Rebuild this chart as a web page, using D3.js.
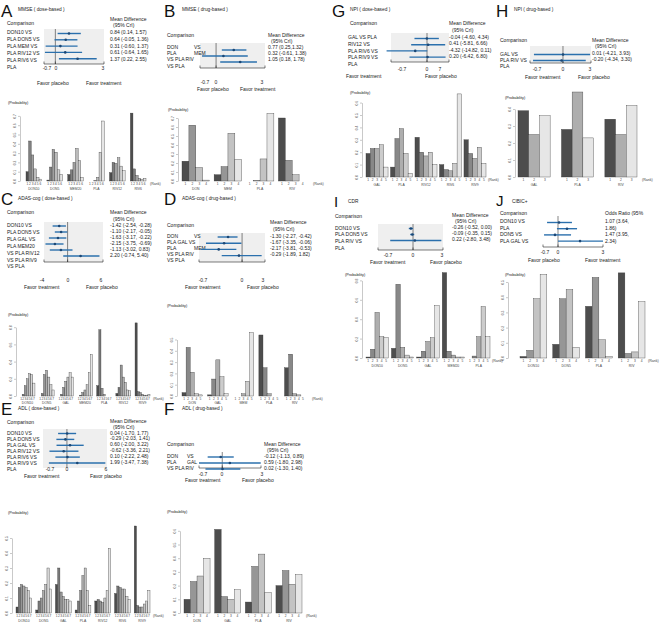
<!DOCTYPE html>
<html><head><meta charset="utf-8">
<script src="https://cdn.jsdelivr.net/npm/d3@7"></script>
<style>
html,body{margin:0;padding:0;background:#fff;overflow:hidden;}
svg{display:block;}
</style></head><body>
<script>
// ================= DATA =================
// A: MMSE (dose-based)
const aLabels = ["DON10 VS","PLA DON5 VS","PLA MEM VS","PLA RIV12 VS","PLA RIV6 VS","PLA"];
const aValues = ["0.84 (0.14, 1.57)","0.64 (-0.05, 1.36)","0.31 (-0.60, 1.37)","0.61 (-0.64, 1.65)","1.37 (0.22, 2.55)"];
const aMid = [0.84,0.64,0.31,0.61,1.37];
const aLo  = [0.14,-0.05,-0.60,-0.64,0.22];
const aHi  = [1.57,1.36,1.37,1.65,2.55];
const aTreat = ["DON10","DON5","MEM20","PLA","RIV12","RIV6"];
const aProb = [[0.10,0.43,0.28,0.13,0.04,0.02],[0.01,0.15,0.34,0.31,0.12,0.07],[0.07,0.12,0.20,0.35,0.22,0.04],
               [0.0,0.0,0.005,0.04,0.31,0.645],[0.09,0.20,0.19,0.25,0.16,0.11],[0.73,0.13,0.06,0.03,0.02,0.03]];
const aYTicks = [0,0.1,0.2,0.3,0.4,0.5,0.6,0.7];

// B: MMSE (drug-based)  ("|" separates the two label columns)
const bLabels = ["DON|VS","PLA|MEM","VS PLA RIV","VS PLA"];
const bValues = ["0.77 (0.25,1.32)","0.32 (-0.61, 1.38)","1.05 (0.18, 1.78)"];
const bMid = [0.77,0.32,1.05];
const bLo  = [0.25,-0.61,0.18];
const bHi  = [1.32,1.38,1.78];
const bTreat = ["DON","MEM","PLA","RIV"];
const bProb = [[0.22,0.62,0.15,0.01],[0.07,0.16,0.53,0.24],[0.0,0.005,0.245,0.75],[0.70,0.23,0.07,0.0]];
const bYTicks = [0,0.1,0.2,0.3,0.4,0.5,0.6,0.7];

// C: ADAS-cog (dose-based)
const cLabels = ["DON10 VS","PLA DON5 VS","PLA GAL VS","PLA MEM20","VS PLA RIV12","VS PLA RIV9","VS PLA"];
const cValues = ["-1.42 (-2.54, -0.28)","-1.10 (-2.17, -0.05)","-1.63 (-3.17, -0.22)","-2.15 (-3.75, -0.69)","-1.13 (-3.02, 0.83)","2.20 (-0.74, 5.40)"];
const cMid = [-1.42,-1.10,-1.63,-2.15,-1.13,2.20];
const cLo  = [-2.54,-2.17,-3.17,-3.75,-3.02,-0.74];
const cHi  = [-0.28,-0.05,-0.22,-0.69,0.83,5.40];
const cTreat = ["DON10","DON5","GAL","MEM20","PLA","RIV12","RIV9"];
const cProb = [[0.0,0.02,0.12,0.20,0.26,0.25,0.15],[0.0,0.03,0.25,0.30,0.22,0.13,0.07],[0.0,0.02,0.10,0.17,0.22,0.27,0.22],
               [0.0,0.01,0.04,0.07,0.13,0.27,0.48],[0.12,0.77,0.09,0.02,0.0,0.0,0.0],[0.03,0.10,0.36,0.22,0.16,0.07,0.06],
               [0.85,0.05,0.04,0.02,0.01,0.01,0.02]];
const cYTicks = [0,0.2,0.4,0.6,0.8];

// D: ADAS-cog (drug-based)
const dLabels = ["DON|VS","PLA GAL VS","PLA|MEM","VS PLA RIV","VS PLA"];
const dValues = ["-1.30 (-2.27, -0.42)","-1.67 (-3.35, -0.06)","-2.17 (-3.81, -0.53)","-0.29 (-1.89, 1.82)"];
const dMid = [-1.30,-1.67,-2.17,-0.29];
const dLo  = [-2.27,-3.35,-3.81,-1.89];
const dHi  = [-0.42,-0.06,-0.53,1.82];
const dTreat = ["DON","GAL","MEM","PLA","RIV"];
const dProb = [[0.03,0.43,0.21,0.02,0.01],[0.01,0.15,0.32,0.17,0.02],[0.0,0.0,0.02,0.13,0.56],[0.54,0.25,0.02,0.0,0.0],[0.25,0.37,0.02,0.01,0.0]];
const dYTicks = [0,0.1,0.2,0.3,0.4,0.5];

// E: ADL (dose-based)
const eLabels = ["DON10 VS","PLA DON5 VS","PLA GAL VS","PLA RIV12 VS","PLA RIV6 VS","PLA RIV9 VS","PLA"];
const eValues = ["0.04 (-1.70, 1.77)","-0.29 (-2.03, 1.41)","0.60 (-2.00, 3.22)","-0.62 (-3.36, 2.21)","0.10 (-2.22, 2.48)","1.99 (-3.47, 7.38)"];
const eMid = [0.04,-0.29,0.60,-0.62,0.10,1.99];
const eLo  = [-1.70,-2.03,-2.00,-3.36,-2.22,-3.47];
const eHi  = [1.77,1.41,3.22,2.21,2.48,7.38];
const eTreat = ["DON10","DON5","GAL","PLA","RIV12","RIV6","RIV9"];
const eProb = [[0.04,0.17,0.19,0.18,0.17,0.15,0.10],[0.02,0.08,0.10,0.15,0.19,0.30,0.16],[0.19,0.30,0.14,0.11,0.09,0.09,0.08],
               [0.02,0.08,0.15,0.25,0.30,0.15,0.05],[0.08,0.09,0.08,0.07,0.10,0.15,0.43],[0.13,0.18,0.17,0.16,0.16,0.11,0.09],
               [0.58,0.05,0.04,0.04,0.06,0.08,0.15]];
const eYTicks = [0,0.1,0.2,0.3,0.4,0.5];

// F: ADL (drug-based)
const fLabels = ["DON|VS","PLA|GAL","VS PLA RIV"];
const fValues = ["-0.12 (-1.13, 0.89)","0.59 (-1.80, 2.98)","0.02 (-1.30, 1.40)"];
const fMid = [-0.12,0.59,0.02];
const fLo  = [-1.13,-1.80,-1.30];
const fHi  = [0.89,2.98,1.40];
const fTreat = ["DON","GAL","PLA","RIV"];
const fProb = [[0.10,0.23,0.27,0.40],[0.61,0.12,0.10,0.17],[0.08,0.34,0.43,0.15],[0.20,0.31,0.21,0.28]];
const fYTicks = [0,0.1,0.2,0.3,0.4,0.5,0.6];

// G: NPI (dose-based)
const gLabels = ["GAL VS PLA","RIV12 VS","PLA RIV6 VS","PLA RIV9 VS","PLA"];
const gValues = ["-0.04 (-4.60, 4.34)","0.41 (-5.81, 6.66)","-4.32 (-14.82, 0.11)","0.20 (-6.42, 6.80)"];
const gMid = [-0.04,0.41,-4.32,0.20];
const gLo  = [-4.60,-5.81,-14.82,-6.42];
const gHi  = [4.34,6.66,0.11,6.80];
const gTreat = ["GAL","PLA","RIV12","RIV6","RIV9"];
const gProb = [[0.19,0.23,0.23,0.26,0.08],[0.08,0.31,0.39,0.19,0.03],[0.32,0.20,0.17,0.20,0.10],[0.10,0.06,0.05,0.11,0.67],[0.30,0.19,0.15,0.24,0.11]];
const gYTicks = [0,0.1,0.2,0.3,0.4,0.5,0.6];

// H: NPI (drug-based)
const hLabels = ["GAL VS","PLA RIV VS","PLA"];
const hValues = ["0.01 (-4.21, 3.93)","-0.20 (-4.34, 3.30)"];
const hMid = [0.01,-0.20];
const hLo  = [-4.21,-4.34];
const hHi  = [3.93,3.30];
const hTreat = ["GAL","PLA","RIV"];
const hProb = [[0.39,0.25,0.36],[0.28,0.50,0.23],[0.34,0.25,0.42]];
const hYTicks = [0,0.1,0.2,0.3,0.4];

// I: CDR
const iLabels = ["DON10 VS","PLA DON5 VS","PLA RIV VS","PLA"];
const iValues = ["-0.26 (-0.52, 0.00)","-0.09 (-0.35, 0.15)","0.22 (-2.80, 3.48)"];
const iMid = [-0.26,-0.09,0.22];
const iLo  = [-0.52,-0.35,-2.80];
const iHi  = [0.00,0.15,3.48];
const iTreat = ["DON10","DON5","GAL","MEM20","PLA"];
const iProb = [[0.01,0.09,0.47,0.22,0.21],[0.10,0.76,0.11,0.03,0.01],[0.01,0.07,0.17,0.21,0.54],[0.88,0.07,0.03,0.01,0.01],[0.0,0.02,0.22,0.53,0.22]];
const iYTicks = [0,0.2,0.4,0.6,0.8];

// J: CIBIC+
const jLabels = ["DON10 VS","PLA","DON5 VS","PLA GAL VS"];
const jValues = ["1.07 (3.64,","1.86)","1.47 (3.95,","2.34)"];
const jMid = [0.07,0.60,-0.20,1.47];
const jLo  = [-0.73,-0.07,-0.93,0.0];
const jHi  = [0.93,1.27,0.87,3.0];
const jTreat = ["DON10","DON5","PLA","RIV"];
const jProb = [[0.01,0.05,0.39,0.55],[0.09,0.39,0.45,0.07],[0.34,0.53,0.12,0.01],[0.56,0.03,0.04,0.37]];
const jYTicks = [0,0.1,0.2,0.3,0.4,0.5];

const mdHead = ["Mean Difference","(95% CrI)"];
const favPT = ["Favor placebo","Favor treatment"];
const favTP = ["Favor treatment","Favor placebo"];

// ================= DRAWING =================
const FONT = "'Liberation Sans', Arial, Helvetica, sans-serif";
const svg = d3.select("body").append("svg").attr("width",660).attr("height",630).style("font-family",FONT);
svg.append("rect").attr("width",660).attr("height",630).attr("fill","#fff");

function txt(g,x,y,s,size,anchor,fill){
  return g.append("text").attr("x",x).attr("y",y).attr("font-size",size)
    .attr("text-anchor",anchor||"start").attr("fill",fill||"#222").text(s);
}
function grays(n){
  const a=Math.pow(0.3,2.2), b=Math.pow(0.9,2.2);
  return d3.range(n).map(i=>{const v=Math.pow(a+(b-a)*(n>1?i/(n-1):0),1/2.2); const c=Math.round(v*255); return `rgb(${c},${c},${c})`;});
}

function forest(L, D){
  const g = svg.append("g");
  txt(g,L.letter[0],L.letter[1],D.letter,L.letterSize||17,"start","#111");
  txt(g,L.title[0],L.title[1],D.title,4.8);
  txt(g,L.comp[0],L.comp[1],"Comparison",5);
  D.head.forEach((h,i)=>txt(g,L.head[0]+(i?3:0),L.head[1]+i*L.headDy,h,5));
  const x = d3.scaleLinear().domain(L.domain).range([L.box[0],L.box[1]]);
  if (L.shade) g.append("rect").attr("x",L.box[0]).attr("y",L.box[2]).attr("width",L.box[1]-L.box[0])
      .attr("height",L.box[3]-L.box[2]).attr("fill","#efefef");
  g.append("line").attr("x1",x(0)).attr("x2",x(0)).attr("y1",L.box[2]).attr("y2",L.box[3])
    .attr("stroke","#333").attr("stroke-width",0.6);
  if (L.axis){
    g.append("line").attr("x1",L.box[0]).attr("x2",L.box[1]).attr("y1",L.box[3]).attr("y2",L.box[3])
      .attr("stroke","#222").attr("stroke-width",0.6);
    [L.box[0],x(0),L.box[1]].forEach(p=>g.append("line").attr("x1",p).attr("x2",p).attr("y1",L.box[3]).attr("y2",L.box[3]-2.5)
      .attr("stroke","#222").attr("stroke-width",0.6));
  }
  D.labels.forEach((s,i)=>{
    const parts = s.split("|");
    txt(g,L.labelX,L.labelY+i*L.labelDy,parts[0],5);
    if (parts[1]) txt(g,L.labelX+(L.col2||26),L.labelY+i*L.labelDy,parts[1],5);
  });
  D.values.forEach((s,i)=>txt(g,L.head[0],L.valueY+i*L.valueDy,s,5));
  const rows = D.mid.map((m,i)=>({m,lo:D.lo[i],hi:D.hi[i],i}));
  g.selectAll("line.ci").data(rows).join("line").attr("class","ci")
    .attr("x1",d=>x(d.lo)).attr("x2",d=>x(d.hi))
    .attr("y1",d=>L.ciY+d.i*L.ciDy).attr("y2",d=>L.ciY+d.i*L.ciDy)
    .attr("stroke","#2b70ad").attr("stroke-width",1.4);
  g.selectAll("circle.pt").data(rows).join("circle").attr("class","pt")
    .attr("cx",d=>x(d.m)).attr("cy",d=>L.ciY+d.i*L.ciDy).attr("r",1.3).attr("fill","#1b4775");
  D.ticks.forEach((t,i)=>txt(g,L.tickX[i],L.tickY,t,5,"middle"));
  txt(g,L.favorL[0],L.favorL[1],D.favor[0],5);
  txt(g,L.favorR[0],L.favorR[1],D.favor[1],5);
}

function bars(L, D){
  const g = svg.append("g");
  txt(g,L.probX,L.probY,"(Probability)",3.8);
  const y = d3.scaleLinear().domain([0,L.yMax]).range([L.base,L.base-L.yMax*L.ppu]);
  const xg = d3.scaleBand().domain(D.treat).range([L.x0,L.x1]).paddingInner(L.pad);
  const n = D.prob[0].length;
  const ranks = d3.range(1,n+1);
  const xr = d3.scaleBand().domain(ranks).range([0,xg.bandwidth()]);
  const fill = d3.scaleOrdinal().domain(ranks).range(grays(n));
  const ax = g.append("g").attr("transform",`translate(${L.axisX},0)`)
    .call(d3.axisLeft(y).tickValues(D.yTicks).tickSize(2).tickSizeOuter(0).tickFormat(d3.format(".1f")));
  ax.select(".domain").attr("stroke","#777").attr("stroke-width",0.4);
  ax.selectAll(".tick line").attr("stroke","#777").attr("stroke-width",0.4);
  ax.selectAll(".tick text").attr("font-size",3.3).attr("fill","#555").attr("font-family",FONT)
    .attr("transform","rotate(-90)").attr("x",0).attr("y",-3.6).attr("dy",0).attr("text-anchor","middle");
  const cells = D.treat.flatMap((t,ti)=>D.prob[ti].map((p,ri)=>({t,r:ri+1,p})));
  g.selectAll("rect.bar").data(cells).join("rect").attr("class","bar")
    .attr("x",d=>xg(d.t)+xr(d.r)).attr("y",d=>y(d.p)).attr("width",xr.bandwidth())
    .attr("height",d=>y(0)-y(d.p)).attr("fill",d=>fill(d.r)).attr("stroke","#333").attr("stroke-width",0.35);
  g.selectAll("text.rk").data(cells).join("text").attr("class","rk")
    .attr("x",d=>xg(d.t)+xr(d.r)+xr.bandwidth()/2).attr("y",L.tickY).attr("font-size",3.2)
    .attr("text-anchor","middle").attr("fill","#444").text(d=>d.r);
  g.selectAll("text.nm").data(D.treat).join("text").attr("class","nm")
    .attr("x",d=>xg(d)+xg.bandwidth()/2).attr("y",L.nameY).attr("font-size",3.4)
    .attr("text-anchor","middle").attr("fill","#444").text(d=>d);
  txt(g,L.rankX,L.tickY,"(Rank)",3.6,"start","#444");
}

// ----- layouts -----
forest({letter:[1,17],title:[18,11],comp:[7,25],head:[110,21],headDy:6,labelX:7,labelY:34,labelDy:7,valueY:34,valueDy:6.8,
  box:[44,104,29,64],domain:[-0.7,3],shade:true,axis:true,ciY:33.5,ciDy:6.3,tickX:[47,56,103],tickY:69.5,favorL:[37,85],favorR:[86,85]},
  {letter:"A",title:"MMSE ( dose-based )",head:mdHead,labels:aLabels,values:aValues,mid:aMid,lo:aLo,hi:aHi,ticks:["-0.7","0","3"],favor:favPT});
bars({probX:8,probY:104,axisX:20,base:181,ppu:93,yMax:0.7,x0:26,x1:146,pad:0.25,tickY:185,nameY:190,rankX:150},
  {treat:aTreat,prob:aProb,yTicks:aYTicks});

forest({letter:[164,17],title:[182,11],comp:[167,37],head:[268,37],headDy:6,labelX:167,labelY:49,labelDy:6.2,col2:27,valueY:48.5,valueDy:6,
  box:[200,265,43,68],domain:[-0.7,2.13],shade:true,axis:true,ciY:50,ciDy:6,tickX:[205,216,262],tickY:84,favorL:[197,91],favorR:[240,91]},
  {letter:"B",title:"MMSE ( drug-based )",head:mdHead,labels:bLabels,values:bValues,mid:bMid,lo:bLo,hi:bHi,ticks:["-0.7","0","3"],favor:favPT});
bars({probX:168,probY:111,axisX:178,base:181,ppu:90,yMax:0.7,x0:182,x1:306,pad:0.14,tickY:185,nameY:190,rankX:313},
  {treat:bTreat,prob:bProb,yTicks:bYTicks});

forest({letter:[1,205],title:[18,200],comp:[7,214],head:[110,214],headDy:6.5,labelX:7,labelY:227,labelDy:6.9,valueY:227,valueDy:6,
  box:[44,103,222,262],domain:[-4,6],shade:true,axis:true,ciY:226,ciDy:6,tickX:[42,68,101],tickY:282,favorL:[24,289],favorR:[86,289]},
  {letter:"C",title:"ADAS-cog ( dose-based )",head:mdHead,labels:cLabels,values:cValues,mid:cMid,lo:cLo,hi:cHi,ticks:["-4","0","6"],favor:favTP});
bars({probX:8,probY:316,axisX:16,base:396,ppu:86,yMax:0.8,x0:20,x1:150,pad:0.22,tickY:399.5,nameY:404,rankX:153},
  {treat:cTreat,prob:cProb,yTicks:cYTicks});

forest({letter:[164,205],title:[182,200],comp:[167,227],head:[270,224],headDy:7,labelX:167,labelY:238,labelDy:6,col2:27,valueY:238,valueDy:6,
  box:[199,265,233,262],domain:[-4,2.13],shade:true,axis:true,ciY:237,ciDy:6.2,tickX:[203,242,263],tickY:282,favorL:[185,289],favorR:[247,289]},
  {letter:"D",title:"ADAS-cog ( drug-based )",head:mdHead,labels:dLabels,values:dValues,mid:dMid,lo:dLo,hi:dHi,ticks:["-0.7","0","3"],favor:favTP});
bars({probX:167,probY:307,axisX:177,base:396,ppu:113,yMax:0.5,x0:182,x1:305,pad:0.2,tickY:399.5,nameY:404,rankX:312},
  {treat:dTreat,prob:dProb,yTicks:dYTicks});

forest({letter:[1,415],title:[18,410],comp:[7,424],head:[110,423],headDy:6,labelX:7,labelY:434.5,labelDy:6,valueY:434.5,valueDy:5.9,
  box:[43,107,429,468],domain:[-4.6,7.7],shade:true,axis:false,ciY:433.5,ciDy:5.9,tickX:[50,67,106],tickY:471,favorL:[24,478],favorR:[90,478]},
  {letter:"E",title:"ADL ( dose-based )",head:mdHead,labels:eLabels,values:eValues,mid:eMid,lo:eLo,hi:eHi,ticks:["-0.7","0","6"],favor:favTP});
bars({probX:8,probY:514,axisX:12,base:613,ppu:150,yMax:0.5,x0:16,x1:150,pad:0.2,tickY:617,nameY:622,rankX:153},
  {treat:eTreat,prob:eProb,yTicks:eYTicks});

forest({letter:[164,415],title:[182,410],comp:[167,446],head:[264,446],headDy:6,labelX:167,labelY:458,labelDy:6,col2:20,valueY:458,valueDy:6,
  box:[199,261,452,468],domain:[-1.8,3],shade:false,axis:true,ciY:457,ciDy:6,tickX:[203,222,262],tickY:476,favorL:[185,482],favorR:[242,482]},
  {letter:"F",title:"ADL ( drug-based )",head:mdHead,labels:fLabels,values:fValues,mid:fMid,lo:fLo,hi:fHi,ticks:["-0.7","0","3"],favor:favTP});
bars({probX:167,probY:513,axisX:180,base:613,ppu:137,yMax:0.6,x0:184,x1:302,pad:0.15,tickY:617,nameY:622,rankX:306},
  {treat:fTreat,prob:fProb,yTicks:fYTicks});

forest({letter:[332,17],title:[350,11],comp:[350,25],head:[449,25],headDy:6.5,labelX:348,labelY:39,labelDy:6.8,valueY:39,valueDy:6.3,
  box:[391,449,33,62],domain:[-13.2,8.06],shade:true,axis:true,ciY:38.5,ciDy:6.2,tickX:[402,427,440],tickY:70.5,favorL:[346,78],favorR:[425,78]},
  {letter:"G",title:"NPI ( dose-based )",head:mdHead,labels:gLabels,values:gValues,mid:gMid,lo:gLo,hi:gHi,ticks:["-0.7","0","7"],favor:favTP});
bars({probX:350,probY:94,axisX:362,base:177,ppu:124,yMax:0.6,x0:366,x1:486,pad:0.1,tickY:181,nameY:185.5,rankX:488},
  {treat:gTreat,prob:gProb,yTicks:gYTicks});

forest({letter:[496,17],title:[514,11],comp:[500,42],head:[592,42],headDy:6,labelX:500,labelY:56,labelDy:6,valueY:55,valueDy:6,
  box:[530,591,46,63],domain:[-4.78,4.06],shade:true,axis:true,ciY:54.5,ciDy:6,tickX:[537,563,590],tickY:71,favorL:[525,79],favorR:[578,79]},
  {letter:"H",title:"NPI ( drug-based )",head:mdHead,labels:hLabels,values:hValues,mid:hMid,lo:hLo,hi:hHi,ticks:["-0.7","0","3"],favor:favTP});
bars({probX:505,probY:99,axisX:515,base:177,ppu:170,yMax:0.4,x0:518,x1:637,pad:0.26,tickY:181,nameY:185.5,rankX:642},
  {treat:hTreat,prob:hProb,yTicks:hYTicks});

forest({letter:[334,207],letterSize:15,title:[348,203],comp:[335,217.5],head:[452,217],headDy:6,labelX:335,labelY:229.5,labelDy:6.8,valueY:229,valueDy:6,
  box:[378,443,224,250],domain:[-4.3,3.68],shade:true,axis:true,ciY:228.5,ciDy:6,tickX:[388,413,442],tickY:257,favorL:[370,264],favorR:[430,264]},
  {letter:"I",title:"CDR",head:mdHead,labels:iLabels,values:iValues,mid:iMid,lo:iLo,hi:iHi,ticks:["-0.7","0","3"],favor:favTP});
bars({probX:345,probY:276,axisX:362,base:358,ppu:97,yMax:0.8,x0:366,x1:490,pad:0.12,tickY:362,nameY:366.5,rankX:492},
  {treat:iTreat,prob:iProb,yTicks:iYTicks});

forest({letter:[496,206],letterSize:15,title:[512,203],comp:[500,214.5],head:[605,214.5],headDy:6,labelX:500,labelY:223,labelDy:6.5,valueY:223,valueDy:6.5,
  box:[543,603,216,247],domain:[-1,3],shade:false,axis:true,ciY:222.5,ciDy:6.2,tickX:[545,558,603],tickY:254,favorL:[528,262],favorR:[585,262]},
  {letter:"J",title:"CIBIC+",head:["Odds Ratio (95%"],labels:jLabels,values:jValues,mid:jMid,lo:jLo,hi:jHi,ticks:["-0.7","0","3"],favor:favPT});
bars({probX:505,probY:276,axisX:508,base:358,ppu:152,yMax:0.5,x0:520,x1:645,pad:0.18,tickY:362,nameY:367,rankX:648},
  {treat:jTreat,prob:jProb,yTicks:jYTicks});
</script>
</body></html>
